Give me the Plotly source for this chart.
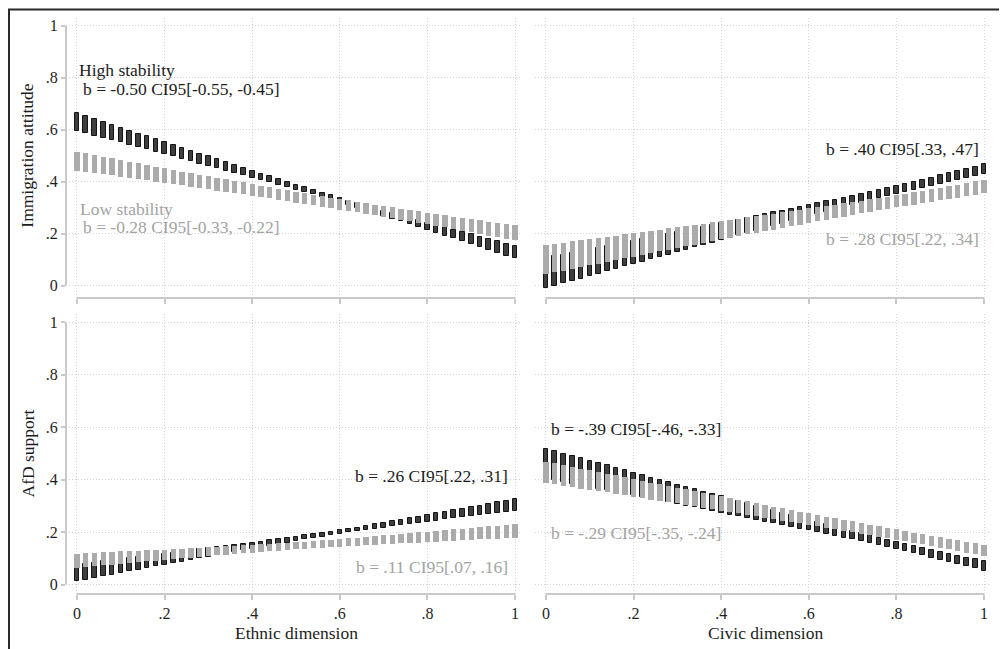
import plotly.graph_objects as go

# ---------------- data ----------------
x_grid = [0.00, 0.02, 0.04, 0.06, 0.08, 0.10, 0.12, 0.14, 0.16, 0.18,
          0.20, 0.22, 0.24, 0.26, 0.28, 0.30, 0.32, 0.34, 0.36, 0.38,
          0.40, 0.42, 0.44, 0.46, 0.48, 0.50, 0.52, 0.54, 0.56, 0.58,
          0.60, 0.62, 0.64, 0.66, 0.68, 0.70, 0.72, 0.74, 0.76, 0.78,
          0.80, 0.82, 0.84, 0.86, 0.88, 0.90, 0.92, 0.94, 0.96, 0.98, 1.00]

# Immigration attitude ~ Ethnic dimension
imm_eth_high_lo = [0.595, 0.586, 0.577, 0.568, 0.560, 0.551, 0.542, 0.533, 0.524, 0.515,
                   0.506, 0.497, 0.488, 0.479, 0.470, 0.461, 0.452, 0.443, 0.434, 0.425,
                   0.416, 0.407, 0.397, 0.388, 0.379, 0.370, 0.360, 0.351, 0.341, 0.331,
                   0.321, 0.311, 0.300, 0.290, 0.280, 0.269, 0.258, 0.247, 0.237, 0.226,
                   0.215, 0.204, 0.193, 0.182, 0.171, 0.160, 0.149, 0.138, 0.127, 0.116, 0.105]
imm_eth_high_hi = [0.663, 0.652, 0.641, 0.630, 0.619, 0.607, 0.596, 0.585, 0.574, 0.563,
                   0.552, 0.541, 0.530, 0.519, 0.508, 0.497, 0.486, 0.475, 0.464, 0.453,
                   0.442, 0.431, 0.421, 0.410, 0.399, 0.388, 0.378, 0.367, 0.357, 0.347,
                   0.337, 0.327, 0.318, 0.308, 0.298, 0.289, 0.280, 0.271, 0.261, 0.252,
                   0.243, 0.234, 0.225, 0.216, 0.207, 0.198, 0.189, 0.180, 0.171, 0.162, 0.153]
imm_eth_low_lo = [0.443, 0.438, 0.434, 0.429, 0.424, 0.420, 0.415, 0.410, 0.405, 0.400,
                  0.396, 0.391, 0.386, 0.381, 0.376, 0.371, 0.366, 0.361, 0.356, 0.351,
                  0.346, 0.341, 0.336, 0.331, 0.326, 0.320, 0.315, 0.310, 0.304, 0.299,
                  0.293, 0.288, 0.282, 0.277, 0.271, 0.265, 0.259, 0.253, 0.247, 0.242,
                  0.236, 0.230, 0.224, 0.217, 0.211, 0.205, 0.199, 0.193, 0.187, 0.180, 0.174]
imm_eth_low_hi = [0.515, 0.509, 0.502, 0.496, 0.490, 0.483, 0.477, 0.471, 0.464, 0.458,
                  0.452, 0.446, 0.439, 0.433, 0.427, 0.421, 0.415, 0.409, 0.403, 0.397,
                  0.391, 0.385, 0.379, 0.373, 0.367, 0.362, 0.356, 0.350, 0.345, 0.339,
                  0.333, 0.328, 0.323, 0.317, 0.312, 0.307, 0.301, 0.296, 0.291, 0.286,
                  0.281, 0.276, 0.271, 0.266, 0.261, 0.256, 0.251, 0.246, 0.241, 0.237, 0.232]

# Immigration attitude ~ Civic dimension
imm_civ_high_lo = [-0.010, -0.001, 0.009, 0.018, 0.027, 0.036, 0.046, 0.055, 0.064, 0.074,
                   0.083, 0.092, 0.101, 0.111, 0.120, 0.129, 0.138, 0.148, 0.157, 0.166,
                   0.175, 0.185, 0.194, 0.203, 0.212, 0.221, 0.230, 0.239, 0.248, 0.257,
                   0.266, 0.275, 0.284, 0.293, 0.302, 0.311, 0.319, 0.328, 0.336, 0.345,
                   0.353, 0.361, 0.369, 0.377, 0.385, 0.392, 0.400, 0.407, 0.415, 0.422, 0.429]
imm_civ_high_hi = [0.106, 0.113, 0.120, 0.126, 0.133, 0.140, 0.146, 0.153, 0.160, 0.167,
                   0.173, 0.180, 0.187, 0.193, 0.200, 0.207, 0.214, 0.220, 0.227, 0.234,
                   0.241, 0.248, 0.254, 0.261, 0.268, 0.275, 0.282, 0.289, 0.296, 0.303,
                   0.310, 0.317, 0.324, 0.331, 0.338, 0.345, 0.353, 0.360, 0.368, 0.375,
                   0.383, 0.391, 0.399, 0.407, 0.415, 0.424, 0.432, 0.441, 0.449, 0.458, 0.467]
imm_civ_low_lo = [0.045, 0.052, 0.058, 0.065, 0.072, 0.079, 0.085, 0.092, 0.099, 0.105,
                  0.112, 0.118, 0.125, 0.132, 0.138, 0.145, 0.151, 0.158, 0.165, 0.171,
                  0.178, 0.184, 0.191, 0.197, 0.203, 0.210, 0.216, 0.223, 0.229, 0.235,
                  0.241, 0.248, 0.254, 0.260, 0.266, 0.272, 0.278, 0.284, 0.290, 0.295,
                  0.301, 0.307, 0.312, 0.318, 0.323, 0.329, 0.334, 0.339, 0.345, 0.350, 0.355]
imm_civ_low_hi = [0.157, 0.162, 0.166, 0.171, 0.175, 0.180, 0.184, 0.189, 0.193, 0.198,
                  0.202, 0.207, 0.211, 0.216, 0.221, 0.225, 0.230, 0.234, 0.239, 0.244,
                  0.249, 0.253, 0.258, 0.263, 0.267, 0.272, 0.277, 0.282, 0.287, 0.292,
                  0.297, 0.302, 0.307, 0.312, 0.317, 0.322, 0.327, 0.333, 0.338, 0.343,
                  0.349, 0.354, 0.360, 0.366, 0.371, 0.377, 0.383, 0.389, 0.395, 0.401, 0.407]

# AfD support ~ Ethnic dimension
afd_eth_high_lo = [0.013, 0.019, 0.025, 0.032, 0.038, 0.044, 0.050, 0.056, 0.063, 0.069,
                   0.075, 0.081, 0.087, 0.093, 0.100, 0.106, 0.112, 0.118, 0.124, 0.130,
                   0.136, 0.142, 0.148, 0.154, 0.160, 0.166, 0.172, 0.177, 0.183, 0.188,
                   0.194, 0.199, 0.203, 0.208, 0.213, 0.217, 0.222, 0.226, 0.231, 0.235,
                   0.239, 0.244, 0.248, 0.252, 0.257, 0.261, 0.265, 0.269, 0.274, 0.278, 0.282]
afd_eth_high_hi = [0.075, 0.079, 0.083, 0.088, 0.092, 0.096, 0.100, 0.105, 0.109, 0.113,
                   0.117, 0.121, 0.126, 0.130, 0.134, 0.138, 0.143, 0.147, 0.151, 0.155,
                   0.160, 0.164, 0.169, 0.173, 0.177, 0.182, 0.187, 0.191, 0.196, 0.201,
                   0.207, 0.212, 0.217, 0.223, 0.229, 0.235, 0.241, 0.247, 0.253, 0.259,
                   0.265, 0.271, 0.277, 0.283, 0.289, 0.295, 0.301, 0.308, 0.314, 0.320, 0.326]
afd_eth_low_lo = [0.064, 0.067, 0.070, 0.073, 0.076, 0.079, 0.082, 0.085, 0.088, 0.091,
                  0.094, 0.097, 0.100, 0.103, 0.106, 0.108, 0.111, 0.114, 0.117, 0.119,
                  0.122, 0.124, 0.127, 0.129, 0.132, 0.134, 0.136, 0.138, 0.140, 0.142,
                  0.144, 0.146, 0.148, 0.150, 0.152, 0.154, 0.155, 0.157, 0.159, 0.160,
                  0.162, 0.164, 0.165, 0.167, 0.169, 0.170, 0.172, 0.173, 0.175, 0.176, 0.178]
afd_eth_low_hi = [0.118, 0.120, 0.121, 0.123, 0.124, 0.126, 0.127, 0.129, 0.130, 0.132,
                  0.133, 0.135, 0.137, 0.138, 0.140, 0.142, 0.144, 0.145, 0.147, 0.149,
                  0.151, 0.153, 0.155, 0.157, 0.160, 0.162, 0.164, 0.166, 0.169, 0.171,
                  0.174, 0.177, 0.179, 0.182, 0.185, 0.187, 0.190, 0.193, 0.196, 0.199,
                  0.202, 0.204, 0.207, 0.210, 0.213, 0.216, 0.219, 0.222, 0.225, 0.228, 0.232]

# AfD support ~ Civic dimension
afd_civ_high_lo = [0.405, 0.399, 0.392, 0.385, 0.379, 0.372, 0.366, 0.359, 0.353, 0.346,
                   0.340, 0.333, 0.326, 0.320, 0.313, 0.307, 0.300, 0.294, 0.287, 0.280,
                   0.274, 0.267, 0.260, 0.254, 0.247, 0.240, 0.234, 0.227, 0.220, 0.213,
                   0.207, 0.200, 0.193, 0.186, 0.179, 0.172, 0.165, 0.157, 0.150, 0.142,
                   0.135, 0.127, 0.119, 0.112, 0.103, 0.095, 0.087, 0.079, 0.070, 0.062, 0.053]
afd_civ_high_hi = [0.517, 0.508, 0.499, 0.490, 0.481, 0.472, 0.463, 0.454, 0.445, 0.436,
                   0.427, 0.417, 0.408, 0.399, 0.390, 0.381, 0.372, 0.363, 0.354, 0.345,
                   0.336, 0.327, 0.319, 0.310, 0.301, 0.292, 0.283, 0.274, 0.265, 0.256,
                   0.248, 0.239, 0.230, 0.222, 0.213, 0.204, 0.196, 0.188, 0.179, 0.171,
                   0.163, 0.155, 0.147, 0.140, 0.132, 0.125, 0.117, 0.110, 0.103, 0.096, 0.089]
afd_civ_low_lo = [0.387, 0.382, 0.377, 0.372, 0.366, 0.361, 0.356, 0.351, 0.345, 0.340,
                  0.335, 0.330, 0.324, 0.319, 0.314, 0.309, 0.303, 0.298, 0.293, 0.287,
                  0.282, 0.277, 0.271, 0.266, 0.261, 0.255, 0.250, 0.244, 0.239, 0.233,
                  0.228, 0.222, 0.217, 0.211, 0.205, 0.200, 0.194, 0.188, 0.182, 0.177,
                  0.171, 0.165, 0.159, 0.153, 0.147, 0.141, 0.135, 0.129, 0.122, 0.116, 0.110]
afd_civ_low_hi = [0.469, 0.462, 0.456, 0.449, 0.442, 0.436, 0.429, 0.422, 0.416, 0.409,
                  0.402, 0.396, 0.389, 0.382, 0.376, 0.369, 0.363, 0.356, 0.349, 0.343,
                  0.336, 0.330, 0.323, 0.317, 0.310, 0.304, 0.297, 0.291, 0.285, 0.278,
                  0.272, 0.266, 0.259, 0.253, 0.247, 0.241, 0.234, 0.228, 0.222, 0.216,
                  0.210, 0.204, 0.198, 0.192, 0.186, 0.181, 0.175, 0.169, 0.163, 0.158, 0.152]

tick_vals = [0, 0.2, 0.4, 0.6, 0.8, 1]
tick_text = ["0", ".2", ".4", ".6", ".8", "1"]
y_titles = ["Immigration attitude", "AfD support"]
x_titles = ["Ethnic dimension", "Civic dimension"]
group_labels = ["High stability", "Low stability"]

# ---------------- style ----------------
PAGE_OFF = 8            # default page margin around the plot div
W, H = 1007 - PAGE_OFF, 649 - PAGE_OFF
FONT = "Liberation Serif"
DARK_FILL = "#3e3e3e"
DARK_EDGE = "#141414"
GRAY_FILL = "#ababab"
GRAY_TEXT = "#a3a3a3"
DARK_TEXT = "#1c1c1c"
AXIS_COL = "#c9c9c9"
GRID_COL = "#d4d4d4"
TXT_SIZE = 17.5


def xp(px):
    """screen pixel -> paper fraction"""
    return (px - PAGE_OFF) / W


def yp(py):
    return 1 - (py - PAGE_OFF) / H


fig = go.Figure()

panels = [
    ("x", "y", imm_eth_high_lo, imm_eth_high_hi, imm_eth_low_lo, imm_eth_low_hi),
    ("x2", "y2", imm_civ_high_lo, imm_civ_high_hi, imm_civ_low_lo, imm_civ_low_hi),
    ("x3", "y3", afd_eth_high_lo, afd_eth_high_hi, afd_eth_low_lo, afd_eth_low_hi),
    ("x4", "y4", afd_civ_high_lo, afd_civ_high_hi, afd_civ_low_lo, afd_civ_low_hi),
]

for xa, ya, hlo, hhi, llo, lhi in panels:
    fig.add_trace(go.Bar(
        x=x_grid, base=hlo, y=[h - l for l, h in zip(hlo, hhi)],
        width=0.0105, xaxis=xa, yaxis=ya, showlegend=False, hoverinfo="skip",
        marker=dict(color=DARK_FILL, line=dict(color=DARK_EDGE, width=1)),
    ))
    fig.add_trace(go.Bar(
        x=x_grid, base=llo, y=[h - l for l, h in zip(llo, lhi)],
        width=0.0122, xaxis=xa, yaxis=ya, showlegend=False, hoverinfo="skip",
        marker=dict(color=GRAY_FILL, line=dict(color=GRAY_FILL, width=0)),
    ))

# panel geometry (screen pixels)
left_dom = [xp(66), xp(520)]
right_dom = [xp(535), xp(989)]
x_range = [-0.0251, 1.0114]
top_dom = [yp(298), yp(18)]
top_range = [-0.0473, 1.0296]
bot_dom = [yp(594), yp(314)]
bot_range = [-0.0362, 1.0317]

tickfont = dict(family=FONT, size=16, color="#1e1e1e")


def xaxis(dom, anchor, labels):
    return dict(domain=dom, range=x_range, anchor=anchor, tickvals=tick_vals,
                ticktext=tick_text, showticklabels=labels, ticks="outside",
                ticklen=5, tickwidth=1.5, tickcolor=AXIS_COL, showline=False,
                zeroline=False, showgrid=True, gridcolor=GRID_COL, griddash="1px,2px",
                gridwidth=1, tickfont=tickfont, fixedrange=True)


def yaxis(dom, rng, anchor, labels):
    return dict(domain=dom, range=rng, anchor=anchor, tickvals=tick_vals,
                ticktext=tick_text, showticklabels=labels,
                ticks="outside" if labels else "", ticklen=4, tickwidth=1.5,
                tickcolor=AXIS_COL, showline=False, zeroline=False, showgrid=True,
                gridcolor=GRID_COL, griddash="1px,2px", gridwidth=1, tickfont=tickfont,
                fixedrange=True)


fig.update_layout(
    width=W, height=H, autosize=False,
    margin=dict(l=0, r=0, t=0, b=0),
    paper_bgcolor="white", plot_bgcolor="white",
    barmode="overlay", bargap=0,
    font=dict(family=FONT, size=TXT_SIZE, color=DARK_TEXT),
    xaxis=xaxis(left_dom, "y", False),
    yaxis=yaxis(top_dom, top_range, "x", True),
    xaxis2=xaxis(right_dom, "y2", False),
    yaxis2=yaxis(top_dom, top_range, "x2", False),
    xaxis3=xaxis(left_dom, "y3", True),
    yaxis3=yaxis(bot_dom, bot_range, "x3", True),
    xaxis4=xaxis(right_dom, "y4", True),
    yaxis4=yaxis(bot_dom, bot_range, "x4", False),
)

shapes = []
# x axis lines spanning 0..1
for xa, ya in [("x", "y"), ("x2", "y2"), ("x3", "y3"), ("x4", "y4")]:
    shapes.append(dict(type="line", xref=xa, yref=ya + " domain", x0=0, x1=1, y0=0, y1=0,
                       line=dict(color=AXIS_COL, width=2)))
# y axis lines spanning 0..1 (left panels)
for xa, ya in [("x", "y"), ("x3", "y3")]:
    shapes.append(dict(type="line", xref=xa + " domain", yref=ya, x0=0, x1=0, y0=0, y1=1,
                       line=dict(color=AXIS_COL, width=2)))
# outer frame
shapes.append(dict(type="rect", xref="paper", yref="paper",
                   x0=xp(9), x1=xp(1000), y0=yp(670), y1=yp(9.5),
                   line=dict(color="#2a2a2a", width=2), fillcolor="rgba(0,0,0,0)"))
fig.update_layout(shapes=shapes)

ann = []


def txt(text, xref, yref, x, y, color, xanchor):
    ann.append(dict(text=text, xref=xref, yref=yref, x=x, y=y, showarrow=False,
                    xanchor=xanchor, yanchor="middle", align=xanchor,
                    font=dict(family=FONT, size=TXT_SIZE, color=color)))


# top-left
txt(group_labels[0], "x", "y", 0.0, 0.828, DARK_TEXT, "left")
txt("b = -0.50 CI95[-0.55, -0.45]", "x", "y", 0.009, 0.757, DARK_TEXT, "left")
txt(group_labels[1], "x", "y", 0.002, 0.296, GRAY_TEXT, "left")
txt("b = -0.28 CI95[-0.33, -0.22]", "x", "y", 0.009, 0.224, GRAY_TEXT, "left")
# top-right
txt("b = .40 CI95[.33, .47]", "x2", "y2", 0.993, 0.524, DARK_TEXT, "right")
txt("b = .28 CI95[.22, .34]", "x2", "y2", 0.993, 0.180, GRAY_TEXT, "right")
# bottom-left
txt("b = .26 CI95[.22, .31]", "x3", "y3", 0.989, 0.414, DARK_TEXT, "right")
txt("b = .11 CI95[.07, .16]", "x3", "y3", 0.989, 0.065, GRAY_TEXT, "right")
# bottom-right
txt("b = -.39 CI95[-.46, -.33]", "x4", "y4", 0.006, 0.593, DARK_TEXT, "left")
txt("b = -.29 CI95[-.35, -.24]", "x4", "y4", 0.006, 0.198, GRAY_TEXT, "left")

# axis titles
for title, py in zip(y_titles, [155.7, 453.5]):
    ann.append(dict(text=title, xref="paper", yref="paper", x=xp(27), y=yp(py),
                    showarrow=False, textangle=-90, xanchor="center", yanchor="middle",
                    font=dict(family=FONT, size=TXT_SIZE, color=DARK_TEXT)))
for title, px in zip(x_titles, [296, 765]):
    ann.append(dict(text=title, xref="paper", yref="paper", x=xp(px), y=yp(633),
                    showarrow=False, xanchor="center", yanchor="middle",
                    font=dict(family=FONT, size=TXT_SIZE, color=DARK_TEXT)))

fig.update_layout(annotations=ann)

fig.write_html("out.html")
